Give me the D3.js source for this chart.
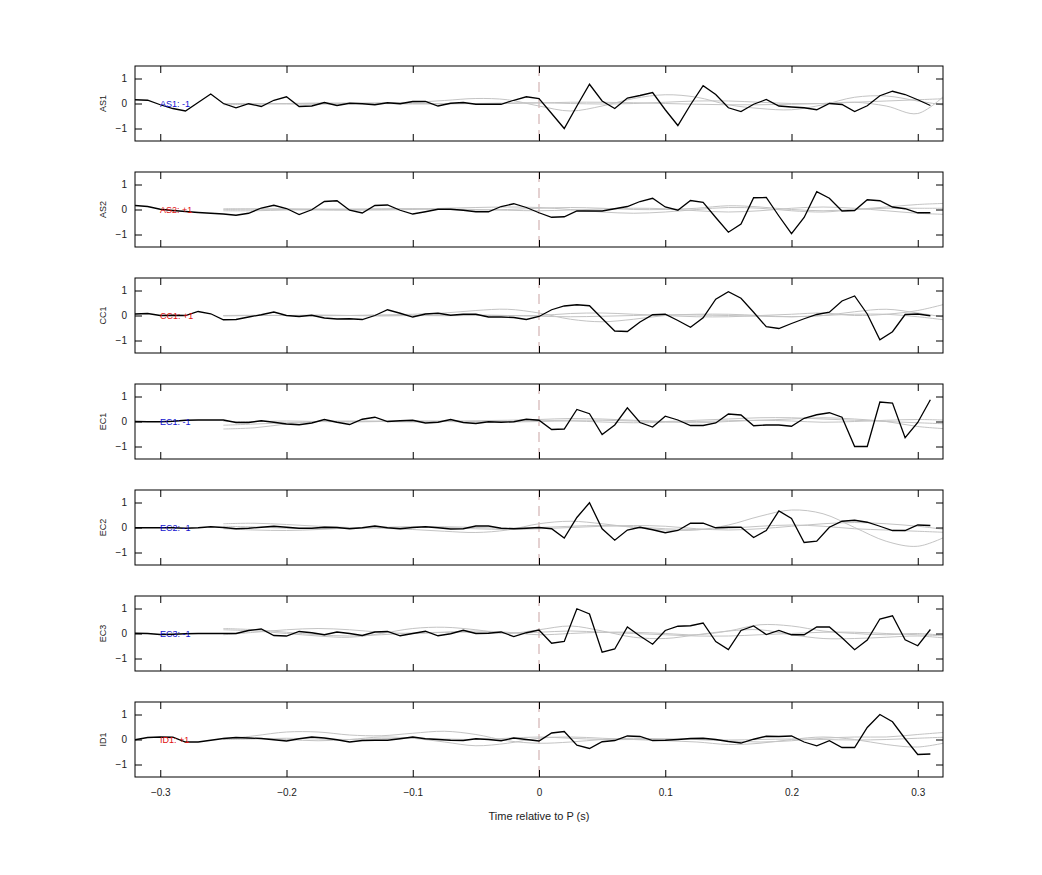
<!DOCTYPE html>
<html>
<head>
<meta charset="utf-8">
<script src="https://d3js.org/d3.v7.min.js"></script>
<style>
  body { margin: 0; background: #fff; }
  text { font-family: "Liberation Sans", Arial, sans-serif; }
</style>
</head>
<body>
<div id="chart"></div>
<script>
// channel names and labels shown inside each panel
const channels = ["AS1", "AS2", "CC1", "EC1", "EC2", "EC3", "ID1"];
const polarity = ["-1", "+1", "+1", "-1", "-1", "-1", "+1"];
const xTicks = [-0.3, -0.2, -0.1, 0, 0.1, 0.2, 0.3];
const yTicks = [-1, 0, 1];

// black trace, sampled every 0.01 s from -0.32 to 0.31
const blackT = d3.range(64).map(i => +(-0.32 + i * 0.01).toFixed(2));
const blackAS1 = [0.15,0.13,-0.05,-0.2,-0.3,0.04,0.38,0.0,-0.17,-0.01,-0.12,0.13,0.27,-0.12,-0.1,0.04,-0.08,0.01,-0.01,-0.05,0.03,-0.01,0.08,0.08,-0.1,0.01,0.04,-0.03,-0.03,-0.03,0.13,0.27,
  0.2,-0.4,-1.0,-0.1,0.77,0.1,-0.2,0.22,0.32,0.44,-0.25,-0.88,-0.05,0.71,0.36,-0.17,-0.32,-0.03,0.16,-0.1,-0.14,-0.17,-0.25,0.0,-0.04,-0.32,-0.09,0.31,0.49,0.36,0.15,-0.08];
const blackAS2 = [0.16,0.12,0.01,-0.04,-0.08,-0.12,-0.15,-0.18,-0.23,-0.15,0.06,0.17,0.04,-0.2,-0.01,0.32,0.35,-0.03,-0.14,0.16,0.18,-0.03,-0.18,-0.09,0.01,0.01,-0.03,-0.09,-0.09,0.12,0.23,0.08,
  -0.13,-0.31,-0.29,-0.06,-0.06,-0.06,0.03,0.12,0.32,0.45,0.1,-0.03,0.36,0.29,-0.32,-0.91,-0.58,0.47,0.48,-0.26,-0.97,-0.32,0.71,0.45,-0.06,-0.04,0.39,0.35,0.1,0.03,-0.13,-0.13];
const blackCC1 = [0.06,0.08,0,0.01,0,0.16,0.07,-0.17,-0.16,-0.06,0.03,0.14,0,-0.04,0.01,-0.1,-0.14,-0.13,-0.16,0,0.23,0.09,-0.06,0.06,0.09,0.01,0.05,0.05,-0.06,-0.06,-0.08,-0.16,
  -0.04,0.23,0.38,0.43,0.39,-0.12,-0.62,-0.64,-0.26,0.03,0.05,-0.2,-0.47,-0.09,0.65,0.95,0.69,0.13,-0.45,-0.52,-0.32,-0.13,0.04,0.13,0.58,0.78,0.06,-0.97,-0.65,0.04,0.06,-0.01];
const blackEC1 = [0,-0.01,-0.01,0.01,0.05,0.06,0.06,0.06,-0.04,-0.04,0.03,-0.03,-0.1,-0.13,-0.06,0.08,-0.03,-0.12,0.09,0.17,0,0.03,0.05,-0.06,-0.03,0.08,-0.04,-0.08,-0.01,-0.03,-0.01,0.09,
  0.05,-0.32,-0.3,0.48,0.31,-0.52,-0.14,0.55,-0.04,-0.22,0.21,0.06,-0.16,-0.16,-0.06,0.3,0.26,-0.17,-0.14,-0.14,-0.19,0.13,0.27,0.35,0.17,-1.0,-1.0,0.78,0.74,-0.65,-0.04,0.87];
const blackEC2 = [-0.01,-0.01,-0.01,-0.01,-0.03,-0.01,0.03,0,-0.05,-0.03,0.01,0.05,0.01,-0.03,-0.03,0.01,0,-0.05,-0.01,0.06,-0.01,-0.05,0,0.03,-0.01,-0.06,-0.05,0.06,0.06,-0.03,-0.05,-0.03,
  0,-0.05,-0.42,0.4,0.99,-0.05,-0.51,-0.1,0.01,-0.09,-0.21,-0.12,0.17,0.17,-0.01,0.01,0.01,-0.4,-0.12,0.66,0.36,-0.6,-0.55,0.01,0.25,0.29,0.21,0.05,-0.12,-0.12,0.1,0.08];
const blackEC3 = [0.01,0,-0.04,-0.03,-0.01,0,0,0,0,0.12,0.18,-0.08,-0.1,0.08,0.03,-0.05,0.06,0,-0.08,0.06,0.08,-0.09,0,0.09,-0.09,-0.01,0.13,0,0.01,0.06,-0.12,0.03,
  0.14,-0.39,-0.32,0.99,0.78,-0.75,-0.62,0.26,-0.1,-0.43,0.12,0.29,0.31,0.42,-0.32,-0.64,0.12,0.3,-0.04,0.12,-0.05,-0.05,0.26,0.26,-0.17,-0.65,-0.26,0.58,0.71,-0.25,-0.49,0.16];
const blackID1 = [-0.01,0.08,0.1,0.09,-0.1,-0.1,-0.03,0.04,0.08,0.06,0.04,-0.01,-0.06,0.03,0.1,0.06,-0.01,-0.1,-0.04,-0.03,-0.03,0.03,0.1,0.03,0,-0.03,-0.04,0.03,0,-0.05,0.06,0,
  -0.06,0.26,0.32,-0.23,-0.36,-0.09,-0.04,0.14,0.12,-0.04,-0.03,0,0.04,0.05,0,-0.08,-0.14,0.01,0.13,0.12,0.14,-0.1,-0.25,-0.05,-0.32,-0.32,0.48,1.0,0.71,0.03,-0.6,-0.58];

// grey traces, sampled every 0.025 s from -0.25 to 0.325
const grayT = d3.range(24).map(i => +(-0.25 + i * 0.025).toFixed(3));
const grayAS1 = [
  [0,0,-0.02,-0.03,0,0.03,0.05,0.12,0.2,0.15,-0.1,-0.3,-0.1,0.2,0.35,0.25,-0.05,-0.2,-0.25,-0.05,0.25,0.3,0.1,-0.1],
  [0,0,0,0,0,0,0,0,0,0,0.02,0.05,0.05,0.03,0,-0.03,-0.05,-0.05,-0.03,0,0.05,-0.1,-0.4,0.5],
  [-0.05,-0.03,0,0.02,0.02,0,-0.02,-0.02,0,0.02,0.03,0,-0.02,0,0.05,0.1,0.1,0.05,0,0,0.05,0.1,0.15,0.2]];
const grayAS2 = [
  [0,0.02,0.03,0.02,0,-0.02,0,0.05,0.08,0.1,0.08,0,-0.1,-0.15,-0.1,0,0.08,0.05,-0.05,-0.1,0,0.1,0.2,0.25],
  [-0.05,-0.05,-0.02,0,0.02,0.03,0.03,0,-0.02,0,0.05,0.08,0.05,0,0,0.05,0.15,0.1,0,-0.05,0,0.05,0.05,0.05],
  [0.03,0.02,0,-0.02,-0.03,0,0.03,0.02,0,-0.03,-0.05,-0.02,0.02,0.05,0.03,-0.05,-0.1,-0.05,0.05,0.1,0.05,-0.05,-0.15,-0.2]];
const grayCC1 = [
  [0,0,0,0,0,0.02,0.05,0.1,0.2,0.25,0.1,-0.15,-0.25,-0.15,0,0.05,0.05,0,-0.05,0,0.15,0.25,0.1,-0.1],
  [-0.02,0,0,0.02,0,-0.02,0,0,0.02,0,0,0.08,0.1,0.05,0,-0.05,-0.05,0,0.05,0.1,0,0.05,0.2,0.5],
  [0,0.01,0,-0.01,0,0.01,0,-0.01,0,0,-0.03,-0.05,-0.03,0,0.03,0.02,0,-0.03,-0.05,0,0.05,0.05,-0.05,-0.2]];
const grayEC1 = [
  [-0.3,-0.25,-0.1,0,0.02,0,-0.02,0,0.03,0.05,0.08,0.12,0.1,0.05,0,-0.05,0,0.05,0.1,0.15,0.1,0,-0.2,-0.3],
  [-0.15,-0.1,-0.05,0,0,0.02,0.03,0,-0.02,0,0.03,0.05,0.05,0.02,0,0.05,0.1,0.15,0.15,0.1,0.05,0,-0.05,-0.1],
  [0,0,0.02,0,-0.02,0,0,0.02,0,-0.02,0,0.02,-0.02,-0.05,-0.03,0,0.03,0.05,0.02,-0.03,0,0.05,0.08,0.05]];
const grayEC2 = [
  [0.15,0.17,0.12,0.05,0,-0.03,-0.08,-0.15,-0.2,-0.1,0.15,0.25,0.15,0,-0.1,-0.1,0.1,0.45,0.7,0.55,0,-0.55,-0.75,-0.3],
  [-0.05,-0.1,-0.12,-0.08,-0.02,0,0.03,0,-0.05,-0.08,-0.05,0,0.05,0.08,0.05,-0.05,-0.1,-0.05,0.05,0.15,0.2,0.15,0.05,-0.1],
  [0.05,0.02,-0.03,-0.05,-0.03,0,0.02,0.03,0,-0.03,0,0.05,0.08,0.03,-0.05,-0.08,-0.03,0.05,0.1,0.05,-0.05,-0.1,-0.15,-0.2]];
const grayEC3 = [
  [0.15,0.1,0.0,-0.1,-0.15,0,0.2,0.25,0.15,0,0.15,0.3,0.1,-0.15,-0.2,-0.05,0.1,0.15,-0.05,-0.2,-0.2,-0.15,-0.1,-0.2],
  [-0.05,0.05,0.15,0.2,0.15,0.05,0,0.05,0.1,0.05,-0.05,0,0.05,0.05,0,-0.05,0.1,0.35,0.3,0.1,0,-0.05,0,-0.1],
  [0.2,0.15,0.05,-0.05,-0.1,-0.05,0.02,0.05,0.05,0.02,0.05,0.1,0.05,0,-0.05,-0.1,-0.1,-0.05,0,0.05,0.05,0,-0.05,-0.1]];
const grayID1 = [
  [0,0.15,0.3,0.3,0.18,0.15,0.25,0.33,0.2,-0.05,-0.15,-0.1,0,0.05,0.02,0,-0.05,-0.1,-0.05,0.05,0.1,0.1,0.2,0.3],
  [0.05,0.05,0,-0.05,0,0.1,0.05,-0.1,-0.25,-0.15,0.05,0.1,0.05,0,-0.05,-0.1,-0.2,-0.15,0,0.1,0,-0.2,-0.3,-0.1],
  [0,0.02,0.05,0.02,0,0.03,0.05,0.02,0,0.05,0.1,0.05,0,0,0.02,0,-0.02,0,0.02,0,-0.02,0,0.05,0.1]];

const blacks = [blackAS1, blackAS2, blackCC1, blackEC1, blackEC2, blackEC3, blackID1];
const grays = [grayAS1, grayAS2, grayCC1, grayEC1, grayEC2, grayEC3, grayID1];

const W = 1042, H = 875;
const left = 135, right = 943, top0 = 66, ph = 75, step = 106;

const svg = d3.select("#chart").append("svg").attr("width", W).attr("height", H);
const x = d3.scaleLinear().domain([-0.32, 0.32]).range([left, right]);

channels.forEach((ch, i) => {
  const top = top0 + i * step;
  const y = d3.scaleLinear().domain([-1.5, 1.5]).range([top + ph, top]);
  const g = svg.append("g");

  g.append("clipPath").attr("id", "clip" + i)
    .append("rect").attr("x", left).attr("y", top).attr("width", right - left).attr("height", ph);

  const plot = g.append("g").attr("clip-path", `url(#clip${i})`);

  // zero line
  plot.append("line")
    .attr("x1", x(0)).attr("x2", x(0)).attr("y1", top).attr("y2", top + ph)
    .attr("stroke", "#c9a3a3").attr("stroke-dasharray", "10,6").attr("stroke-width", 1);

  const grayLine = d3.line().x((d, k) => x(grayT[k])).y(d => y(d)).curve(d3.curveCatmullRom);
  grays[i].forEach(s => {
    plot.append("path").attr("d", grayLine(s))
      .attr("fill", "none").attr("stroke", "#c4c4c4").attr("stroke-width", 1);
  });

  const blackLine = d3.line().x((d, k) => x(blackT[k])).y(d => y(d));
  plot.append("path").attr("d", blackLine(blacks[i]))
    .attr("fill", "none").attr("stroke", "#000").attr("stroke-width", 1.3);

  // frame
  g.append("rect").attr("x", left).attr("y", top).attr("width", right - left).attr("height", ph)
    .attr("fill", "none").attr("stroke", "#000").attr("stroke-width", 1);

  const last = i === channels.length - 1;
  g.append("g").attr("transform", `translate(0,${top + ph})`)
    .call(d3.axisBottom(x).tickValues(xTicks).tickSize(-7).tickPadding(12)
      .tickFormat(last ? d3.format("") : ""));
  g.append("g").attr("transform", `translate(0,${top})`)
    .call(d3.axisTop(x).tickValues(xTicks).tickSize(-7).tickFormat(""));
  g.append("g").attr("transform", `translate(${left},0)`)
    .call(d3.axisLeft(y).tickValues(yTicks).tickSize(-7).tickPadding(8).tickFormat(d3.format("")));
  g.append("g").attr("transform", `translate(${right},0)`)
    .call(d3.axisRight(y).tickValues(yTicks).tickSize(-7).tickFormat(""));
  g.selectAll(".domain").remove();
  g.selectAll(".tick text").attr("font-size", 10).attr("fill", "#222")
    .attr("font-family", "Liberation Sans, Arial, sans-serif");

  g.append("text")
    .attr("transform", `translate(106,${y(0)}) rotate(-90)`)
    .attr("text-anchor", "middle").attr("font-size", 9).attr("fill", "#222").text(ch);

  g.append("text").attr("x", 160).attr("y", y(0) + 3.5)
    .attr("font-size", 9)
    .attr("fill", polarity[i] === "+1" ? "#e01010" : "#1010d0")
    .text(`${ch}: ${polarity[i]}`);
});

svg.append("text").attr("x", x(0)).attr("y", 820).attr("text-anchor", "middle")
  .attr("font-size", 11).attr("fill", "#222").text("Time relative to P (s)");
</script>
</body>
</html>
